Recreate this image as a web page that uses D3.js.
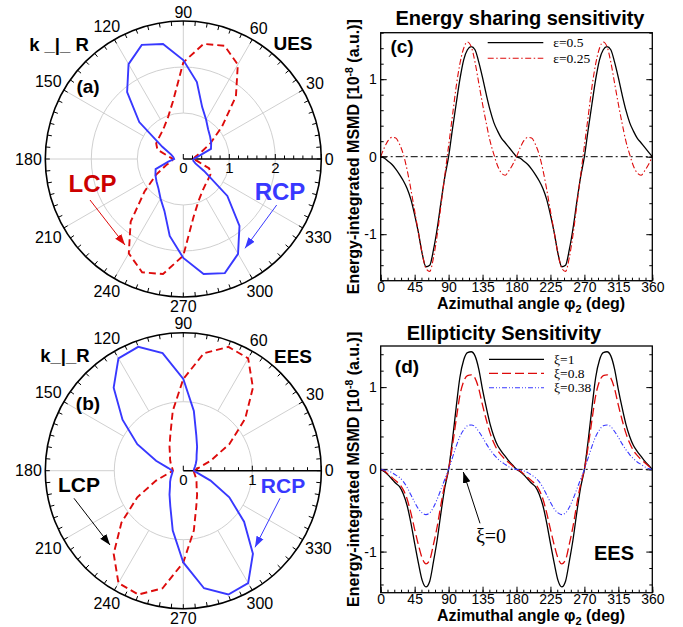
<!DOCTYPE html>
<html><head><meta charset="utf-8">
<script src="https://cdn.jsdelivr.net/npm/d3@7"></script>
<style>body{margin:0;background:#fff}</style>
</head><body>
<svg id="chart" width="683" height="627" xmlns="http://www.w3.org/2000/svg"></svg>
<script>
// ---------------- DATA ----------------
// polar angles (deg) for panels (a),(b)
const polarAngles = [0,10,20,30,40,50,60,70,80,90,100,110,120,130,140,150,160,170,180,
  190,200,210,220,230,240,250,260,270,280,290,300,310,320,330,340,350,360];
const uesRCP = [0.22,0.33,0.64,0.70,0.76,0.84,0.99,1.20,1.70,2.15,2.54,2.64,2.38,1.90,1.25,0.52,0.28,0.22,0.20,
  0.33,0.64,0.70,0.76,0.84,0.99,1.20,1.70,2.15,2.54,2.64,2.38,1.90,1.25,0.52,0.28,0.22,0.22];
const uesLCP = [0.22,0.26,0.40,0.68,1.10,1.78,2.37,2.62,2.54,2.10,1.28,0.97,0.82,0.74,0.70,0.68,0.60,0.33,0.22,
  0.26,0.40,0.68,1.10,1.78,2.37,2.62,2.54,2.10,1.28,0.97,0.82,0.74,0.70,0.68,0.60,0.33,0.22];
const eesRCP = [0.15,0.16,0.18,0.21,0.25,0.30,0.40,0.55,0.88,1.33,1.73,1.91,1.88,1.57,1.15,0.77,0.42,0.22,0.16,
  0.16,0.18,0.21,0.25,0.30,0.40,0.55,0.88,1.33,1.73,1.91,1.88,1.57,1.15,0.77,0.42,0.22,0.15];
const eesLCP = [0.15,0.22,0.42,0.77,1.17,1.57,1.88,1.91,1.73,1.33,0.88,0.55,0.40,0.30,0.25,0.21,0.18,0.16,0.15,
  0.22,0.42,0.77,1.17,1.57,1.88,1.91,1.73,1.33,0.88,0.55,0.40,0.30,0.25,0.21,0.18,0.16,0.15];
const polarAngleLabels = [0,30,60,90,120,150,180,210,240,270,300,330];

// azimuthal angle (deg) for panels (c),(d)
const phi2 = [0,5,10,15,20,25,30,35,40,45,50,55,60,65,70,75,80,85,90,95,100,105,110,115,120,125,130,135,140,145,150,155,160,165,170,175,180,
  185,190,195,200,205,210,215,220,225,230,235,240,245,250,255,260,265,270,275,280,285,290,295,300,305,310,315,320,325,330,335,340,345,350,355,360];
const eps05 = [0,-0.02,-0.06,-0.10,-0.16,-0.23,-0.31,-0.41,-0.55,-0.75,-0.98,-1.25,-1.42,-1.40,-1.20,-0.92,-0.58,-0.26,0.00,0.35,0.68,1.00,1.25,1.38,1.42,1.38,1.22,1.02,0.80,0.60,0.44,0.33,0.24,0.18,0.12,0.06,0.00,
  -0.02,-0.06,-0.10,-0.16,-0.23,-0.31,-0.41,-0.55,-0.75,-0.98,-1.25,-1.42,-1.40,-1.20,-0.92,-0.58,-0.26,0.00,0.35,0.68,1.00,1.25,1.38,1.42,1.38,1.22,1.02,0.80,0.60,0.44,0.33,0.24,0.18,0.12,0.06,0.00];
const eps025 = [0,0.12,0.21,0.25,0.24,0.16,0.03,-0.17,-0.42,-0.70,-0.98,-1.25,-1.44,-1.48,-1.30,-1.00,-0.62,-0.24,0.14,0.52,0.90,1.20,1.40,1.48,1.42,1.22,0.95,0.68,0.43,0.20,0.03,-0.12,-0.21,-0.24,-0.18,-0.10,0.00,
  0.12,0.21,0.25,0.24,0.16,0.03,-0.17,-0.42,-0.70,-0.98,-1.25,-1.44,-1.48,-1.30,-1.00,-0.62,-0.24,0.14,0.52,0.90,1.20,1.40,1.48,1.42,1.22,0.95,0.68,0.43,0.20,0.03,-0.12,-0.21,-0.24,-0.18,-0.10,0.00];
const xi1 = [0,-0.03,-0.07,-0.12,-0.17,-0.21,-0.30,-0.44,-0.65,-0.90,-1.14,-1.35,-1.43,-1.36,-1.12,-0.85,-0.52,-0.22,0.00,0.35,0.75,1.12,1.33,1.42,1.43,1.38,1.22,0.97,0.75,0.55,0.40,0.29,0.22,0.16,0.10,0.05,0.00,
  -0.03,-0.07,-0.12,-0.17,-0.21,-0.30,-0.44,-0.65,-0.90,-1.14,-1.35,-1.43,-1.36,-1.12,-0.85,-0.52,-0.22,0.00,0.35,0.75,1.12,1.33,1.42,1.43,1.38,1.22,0.97,0.75,0.55,0.40,0.29,0.22,0.16,0.10,0.05,0.00];
const xi08 = [0,-0.02,-0.06,-0.10,-0.14,-0.18,-0.25,-0.36,-0.53,-0.73,-0.92,-1.08,-1.15,-1.10,-0.91,-0.69,-0.42,-0.18,0.00,0.28,0.60,0.90,1.07,1.14,1.15,1.11,0.98,0.78,0.60,0.44,0.32,0.23,0.17,0.12,0.08,0.04,0.00,
  -0.02,-0.06,-0.10,-0.14,-0.18,-0.25,-0.36,-0.53,-0.73,-0.92,-1.08,-1.15,-1.10,-0.91,-0.69,-0.42,-0.18,0.00,0.28,0.60,0.90,1.07,1.14,1.15,1.11,0.98,0.78,0.60,0.44,0.32,0.23,0.17,0.12,0.08,0.04,0.00];
const xi038 = [0,-0.01,-0.02,-0.04,-0.07,-0.10,-0.15,-0.22,-0.31,-0.40,-0.48,-0.53,-0.55,-0.53,-0.46,-0.36,-0.24,-0.12,0.00,0.14,0.28,0.40,0.48,0.53,0.54,0.52,0.46,0.39,0.31,0.24,0.18,0.13,0.09,0.06,0.03,0.01,0.00,
  -0.01,-0.02,-0.04,-0.07,-0.10,-0.15,-0.22,-0.31,-0.40,-0.48,-0.53,-0.55,-0.53,-0.46,-0.36,-0.24,-0.12,0.00,0.14,0.28,0.40,0.48,0.53,0.54,0.52,0.46,0.39,0.31,0.24,0.18,0.13,0.09,0.06,0.03,0.01,0.00];
const xTicks = [0,45,90,135,180,225,270,315,360];
const yTicks = [-1,0,1];

// ---------------- STYLE ----------------
const SANS = "'Liberation Sans', Arial, Helvetica, sans-serif";
const SERIF = "'Liberation Serif', 'Times New Roman', serif";
const BLUE = "#3838ff", RED = "#dd0b0b";

const svg = d3.select("#chart");
const defs = svg.append("defs");
function marker(id, color){
  defs.append("marker").attr("id", id).attr("viewBox","0 0 10 10").attr("refX",10).attr("refY",5)
    .attr("markerWidth",11).attr("markerHeight",11).attr("markerUnits","userSpaceOnUse").attr("orient","auto")
    .append("path").attr("d","M0,1.5 L10,5 L0,8.5 Z").attr("fill", color);
}
marker("arRed", RED); marker("arBlue", BLUE); marker("arBlack", "#000");

// ---------------- POLAR ----------------
function drawPolar(o){
  const g = svg.append("g").attr("transform", `translate(${o.cx},${o.cy})`);
  const R = 138;
  const r = d3.scaleLinear().domain([0, o.rMax]).range([0, R]);
  const toXY = (deg, rr) => [rr*Math.cos(deg*Math.PI/180), -rr*Math.sin(deg*Math.PI/180)];
  o.grid.forEach(v => g.append("circle").attr("r", r(v)).attr("fill","none").attr("stroke","#d0d0d0").attr("stroke-width",1));
  polarAngleLabels.filter(a => a !== 0).forEach(a => {
    const p0 = toXY(a, r(1)), p1 = toXY(a, R);
    g.append("line").attr("x1",p0[0]).attr("y1",p0[1]).attr("x2",p1[0]).attr("y2",p1[1])
      .attr("stroke","#d0d0d0").attr("stroke-width",1);
  });
  g.append("circle").attr("r", R).attr("fill","none").attr("stroke","#000").attr("stroke-width",1.6);
  d3.range(0,360,5).forEach(a => {
    const p0 = toXY(a, R), p1 = toXY(a, R-4.5);
    g.append("line").attr("x1",p0[0]).attr("y1",p0[1]).attr("x2",p1[0]).attr("y2",p1[1])
      .attr("stroke","#000").attr("stroke-width",1);
  });
  polarAngleLabels.forEach(a => {
    const t = String(a), fs = 16;
    const hw = t.length*0.556*fs/2, hh = fs*0.36;
    const th = a*Math.PI/180;
    const d = R + 3.5 + hw*Math.abs(Math.cos(th)) + hh*Math.abs(Math.sin(th));
    g.append("text").attr("x", d*Math.cos(th)).attr("y", -d*Math.sin(th)+hh)
      .attr("text-anchor","middle").attr("font-family",SANS).attr("font-size",fs).text(t);
  });
  g.append("line").attr("x1",0).attr("y1",0).attr("x2",R).attr("y2",0).attr("stroke","#000").attr("stroke-width",1.5);
  d3.range(0, o.rMax+0.001, 0.2).forEach(v => {
    const major = Math.abs(v - Math.round(v)) < 1e-6;
    g.append("line").attr("x1",r(v)).attr("x2",r(v)).attr("y1",0).attr("y2", major ? -5 : -3.5)
      .attr("stroke","#000").attr("stroke-width",1);
  });
  d3.range(0, o.rMax, 1).forEach(v => {
    g.append("text").attr("x", r(v)).attr("y", 14).attr("text-anchor","middle")
      .attr("font-family",SANS).attr("font-size",15).text(v);
  });
  const line = d3.lineRadial().angle(d => (90 - d[0]) * Math.PI/180).radius(d => r(d[1]));
  g.append("path").datum(polarAngles.map((a,i)=>[a,o.lcp[i]])).attr("d", line)
    .attr("fill","none").attr("stroke",RED).attr("stroke-width",1.9).attr("stroke-dasharray","7,4");
  g.append("path").datum(polarAngles.map((a,i)=>[a,o.rcp[i]])).attr("d", line)
    .attr("fill","none").attr("stroke",BLUE).attr("stroke-width",1.9);
}

drawPolar({cx:183.3, cy:159, rMax:3, grid:[1,2], rcp:uesRCP, lcp:uesLCP});
drawPolar({cx:183.3, cy:470.7, rMax:2, grid:[1], rcp:eesRCP, lcp:eesLCP});

function txt(x,y,s,opt){
  return svg.append("text").attr("x",x).attr("y",y).attr("text-anchor",opt.anchor||"middle")
    .attr("font-family",opt.family||SANS).attr("font-size",opt.size).attr("font-weight",opt.weight||"normal")
    .attr("fill",opt.color||"#000").text(s);
}
function arrow(x1,y1,x2,y2,color,mk){
  svg.append("line").attr("x1",x1).attr("y1",y1).attr("x2",x2).attr("y2",y2)
    .attr("stroke",color).attr("stroke-width",1).attr("marker-end",`url(#${mk})`);
}
// panel (a) annotations
txt(59,51,"k _|_ R",{size:18.5,weight:"bold"});
txt(293,50,"UES",{size:19,weight:"bold"});
txt(88,93,"(a)",{size:19,weight:"bold"});
txt(92.5,191.5,"LCP",{size:24,weight:"bold",color:"#cc0000"});
txt(280,200,"RCP",{size:24,weight:"bold",color:BLUE});
arrow(90,200,125,245,RED,"arRed");
arrow(276.7,205,245,248.3,BLUE,"arBlue");
// panel (b) annotations
txt(65,362,"k_|_R",{size:18.5,weight:"bold"});
txt(293,363,"EES",{size:19,weight:"bold"});
txt(88,410,"(b)",{size:19,weight:"bold"});
txt(79,492,"LCP",{size:21,weight:"bold"});
txt(283,493,"RCP",{size:21,weight:"bold",color:BLUE});
arrow(74,498.3,110,545,"#000","arBlack");
arrow(280,498.3,255,547.3,BLUE,"arBlue");

// ---------------- CARTESIAN ----------------
function drawCart(o){
  const x = d3.scaleLinear().domain([0,360]).range([o.x0,o.x1]);
  const y = d3.scaleLinear().domain(o.yDom).range([o.y1,o.y0]);
  const g = svg.append("g");
  const style = sel => { sel.select(".domain").remove(); sel.selectAll("line").attr("stroke","#000").attr("stroke-width",1);
    sel.selectAll("text").attr("font-family",SANS).attr("font-size",14).attr("fill","#000"); };
  g.append("g").attr("transform",`translate(0,${o.y1})`)
    .call(d3.axisBottom(x).tickValues(d3.range(0,361,9)).tickSize(-3).tickFormat("")).call(style);
  const minorY = d3.range(Math.ceil(o.yDom[0]*5), Math.floor(o.yDom[1]*5)+1).map(v=>v/5);
  g.append("g").attr("transform",`translate(${o.x0},0)`)
    .call(d3.axisLeft(y).tickValues(minorY).tickSize(-3).tickFormat("")).call(style);
  g.append("g").attr("transform",`translate(${o.x1},0)`)
    .call(d3.axisRight(y).tickValues(minorY).tickSize(-3).tickFormat("")).call(style);
  g.append("g").attr("transform",`translate(0,${o.y1})`)
    .call(d3.axisBottom(x).tickValues(xTicks).tickSize(-6).tickPadding(2).tickFormat(d=>String(d))).call(style)
    .selectAll("text").attr("dy","0.66em");
  g.append("g").attr("transform",`translate(${o.x0},0)`)
    .call(d3.axisLeft(y).tickValues(yTicks).tickSize(-6).tickPadding(4).tickFormat(d=>String(d))).call(style);
  g.append("g").attr("transform",`translate(${o.x1},0)`)
    .call(d3.axisRight(y).tickValues(yTicks).tickSize(-6).tickFormat("")).call(style);
  g.append("line").attr("x1",x(0)).attr("x2",x(360)).attr("y1",y(0)).attr("y2",y(0))
    .attr("stroke","#000").attr("stroke-width",1).attr("stroke-dasharray","7,3,2,3");
  const line = d3.line().x(d=>x(d[0])).y(d=>y(d[1])).curve(d3.curveMonotoneX);
  o.series.forEach(s => {
    g.append("path").datum(phi2.map((p,i)=>[p,s.v[i]])).attr("d",line).attr("fill","none")
      .attr("stroke",s.color).attr("stroke-width",s.w).attr("stroke-dasharray",s.dash||null);
  });
  g.append("rect").attr("x",o.x0).attr("y",o.y0).attr("width",o.x1-o.x0).attr("height",o.y1-o.y0)
    .attr("fill","none").attr("stroke","#000").attr("stroke-width",1.3);
  o.series.forEach((s,i) => {
    const ly = o.legY[i];
    g.append("line").attr("x1",o.legX0).attr("x2",o.legX1).attr("y1",ly).attr("y2",ly)
      .attr("stroke",s.color).attr("stroke-width",s.w).attr("stroke-dasharray",s.dash||null);
    g.append("text").attr("x",o.legX1+10).attr("y",ly+4.5).attr("font-family",SERIF).attr("font-size",13.5).text(s.name);
  });
  txt(o.titleX, o.titleY, o.title, {size:20, weight:"bold"});
  const yl = svg.append("text").attr("transform",`translate(359,${(o.y0+o.y1)/2}) rotate(-90)`)
    .attr("text-anchor","middle").attr("font-family",SANS).attr("font-size",16).attr("font-weight","bold");
  yl.append("tspan").text("Energy-integrated MSMD [10");
  yl.append("tspan").attr("dy",-6).attr("font-size",10.5).text("-8");
  yl.append("tspan").attr("dy",6).text(" (a.u.)]");
  const xl = svg.append("text").attr("x",531).attr("y",o.y1+28.5).attr("text-anchor","middle")
    .attr("font-family",SANS).attr("font-size",16).attr("font-weight","bold");
  xl.append("tspan").text("Azimuthal angle φ");
  xl.append("tspan").attr("dy",4).attr("font-size",11).text("2");
  xl.append("tspan").attr("dy",-4).text(" (deg)");
  txt(o.panX, o.panY, o.panel, {size:19, weight:"bold"});
  return {x,y};
}

drawCart({x0:380.7,x1:652.3,y0:32.7,y1:280.7,yDom:[-1.6,1.6],
  series:[{name:"ε=0.5",v:eps05,color:"#000",w:1.3},
          {name:"ε=0.25",v:eps025,color:RED,w:1.1,dash:"6,2.5,1.5,2.5"}],
  legX0:487.7,legX1:543.3,legY:[42.7,58.3],
  title:"Energy sharing sensitivity",titleX:520,titleY:25,panel:"(c)",panX:402,panY:53});

drawCart({x0:380.7,x1:652.3,y0:346,y1:592.7,yDom:[-1.5,1.5],
  series:[{name:"ξ=1",v:xi1,color:"#000",w:1.3},
          {name:"ξ=0.8",v:xi08,color:RED,w:1.3,dash:"9,4"},
          {name:"ξ=0.38",v:xi038,color:BLUE,w:1.1,dash:"5,2,1,2,1,2"}],
  legX0:489,legX1:544,legY:[359.3,373.3,387.7],
  title:"Ellipticity Sensitivity",titleX:504,titleY:340,panel:"(d)",panX:407,panY:373});

arrow(480,523.3,463.3,472,"#000","arBlack");
txt(491,543,"ξ=0",{size:20,family:SERIF});
txt(614,560,"EES",{size:20,weight:"bold"});
</script>
</body></html>
